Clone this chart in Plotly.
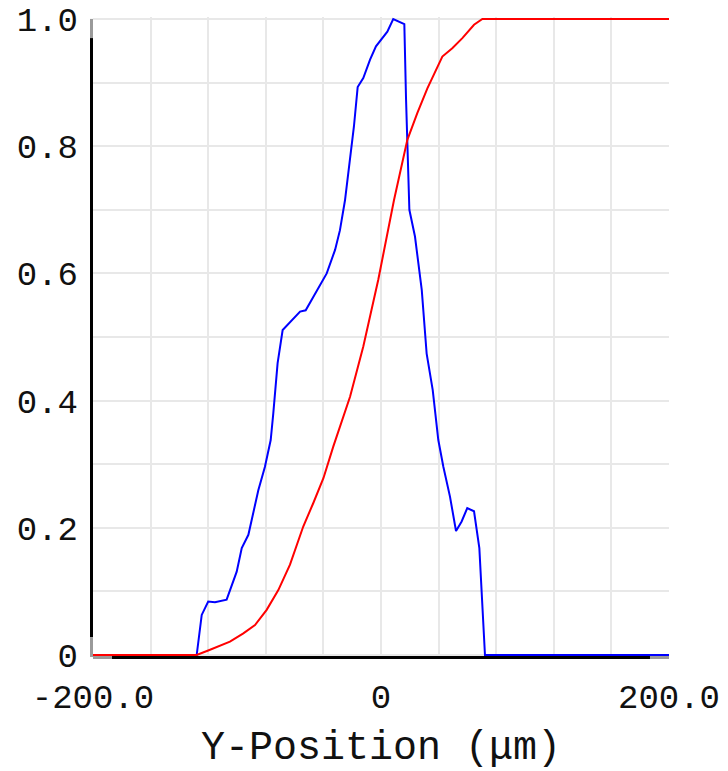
import plotly.graph_objects as go

# ---- data ----
blue_x = [-200, -128, -124.5, -120, -115.3, -107.2, -100.2, -96.7, -92.1, -85.2, -80.6,
          -76.6, -74.8, -71.8, -68.3, -56.2, -52.3, -47, -42.4, -37.7, -31.9, -28.5, -25,
          -21.5, -18.8, -16.2, -12.3, -7.6, -3.5, 4.4, 8.5, 16.2, 17.4, 19.7, 23.6, 28.3,
          31.7, 35.9, 39.8, 43.3, 47.9, 52.1, 56.0, 59.9, 64.6, 68.3, 72.2, 73, 200]
blue_y = [0, 0, 0.063, 0.084, 0.083, 0.087, 0.131, 0.168, 0.189, 0.259, 0.296,
          0.338, 0.380, 0.459, 0.511, 0.540, 0.542, 0.563, 0.579, 0.600, 0.637, 0.668, 0.715,
          0.778, 0.831, 0.893, 0.907, 0.936, 0.957, 0.980, 1.0, 0.992, 0.873, 0.700, 0.658, 0.574,
          0.474, 0.417, 0.338, 0.296, 0.249, 0.195, 0.210, 0.231, 0.226, 0.168, 0.0, 0, 0]

red_x = [-200, -128, -120, -104.9, -95.6, -87.5, -79.4, -71.3, -63.2, -54, -47, -40,
         -33.1, -21.5, -12.3, -1.9, 9.0, 18.3, 25.2, 32.2, 42.6, 49.5, 56.5, 64.6, 70.4, 200]
red_y = [0, 0, 0.007, 0.021, 0.034, 0.047, 0.071, 0.102, 0.142, 0.202, 0.239, 0.278,
         0.328, 0.406, 0.485, 0.590, 0.715, 0.810, 0.852, 0.891, 0.941, 0.954, 0.970, 0.991, 1.0, 1.0]

x_tickvals = [-200, 0, 200]
x_ticktext = ["-200.0", "0", "200.0"]
y_tickvals = [0, 0.2, 0.4, 0.6, 0.8, 1.0]
y_ticktext = ["0", "0.2", "0.4", "0.6", "0.8", "1.0"]
x_title = "Y-Position (μm)"

FONT = "Liberation Mono"
TXT = "#111111"
GRID = "#e8e8e8"

fig = go.Figure()
fig.add_trace(go.Scatter(x=blue_x, y=blue_y, mode="lines",
                         line=dict(color="#0000ff", width=2), showlegend=False))
fig.add_trace(go.Scatter(x=red_x, y=red_y, mode="lines",
                         line=dict(color="#ff0000", width=2), showlegend=False))

pad = 2 / 636
fig.update_layout(
    width=728, height=771,
    margin=dict(l=93, r=59, t=17, b=114, pad=0),
    paper_bgcolor="white", plot_bgcolor="white",
    font=dict(family=FONT, color=TXT),
    xaxis=dict(
        range=[-200, 200], tickvals=x_tickvals, ticktext=x_ticktext,
        tickfont=dict(size=34, family=FONT, color=TXT),
        showgrid=True, gridcolor=GRID, gridwidth=2,
        minor=dict(dtick=40, tick0=-200, showgrid=True, gridcolor=GRID, gridwidth=2),
        zeroline=False, showline=False, ticks="", ticklabelstandoff=16,
        automargin=False,
        title=dict(text=x_title, font=dict(size=40, family=FONT, color=TXT), standoff=18),
    ),
    yaxis=dict(
        range=[-pad, 1 + pad], tickvals=y_tickvals, ticktext=y_ticktext,
        tickfont=dict(size=34, family=FONT, color=TXT),
        showgrid=True, gridcolor=GRID, gridwidth=2,
        minor=dict(dtick=0.1, tick0=0, showgrid=True, gridcolor=GRID, gridwidth=2),
        zeroline=False, showline=False, ticks="", ticklabelstandoff=14,
        automargin=False,
    ),
)

# axis lines (black with gray end stubs)
ax_left = -1.5 / 576
fig.add_shape(type="line", xref="paper", yref="paper", x0=ax_left, x1=ax_left,
              y0=0.031, y1=0.967, line=dict(color="black", width=3), layer="above")
for (a, b) in [(0.967, 0.997), (0.0, 0.031)]:
    fig.add_shape(type="line", xref="paper", yref="paper", x0=ax_left, x1=ax_left,
                  y0=a, y1=b, line=dict(color="#9a9a9a", width=3), layer="above")
ax_bot = -0.5 / 640
fig.add_shape(type="line", xref="paper", yref="paper", x0=0.033, x1=0.967,
              y0=ax_bot, y1=ax_bot, line=dict(color="black", width=3), layer="above")
for (a, b) in [(0.0, 0.033), (0.967, 1.0)]:
    fig.add_shape(type="line", xref="paper", yref="paper", x0=a, x1=b,
                  y0=ax_bot, y1=ax_bot, line=dict(color="#9a9a9a", width=3), layer="above")

fig.write_html("out.html")
